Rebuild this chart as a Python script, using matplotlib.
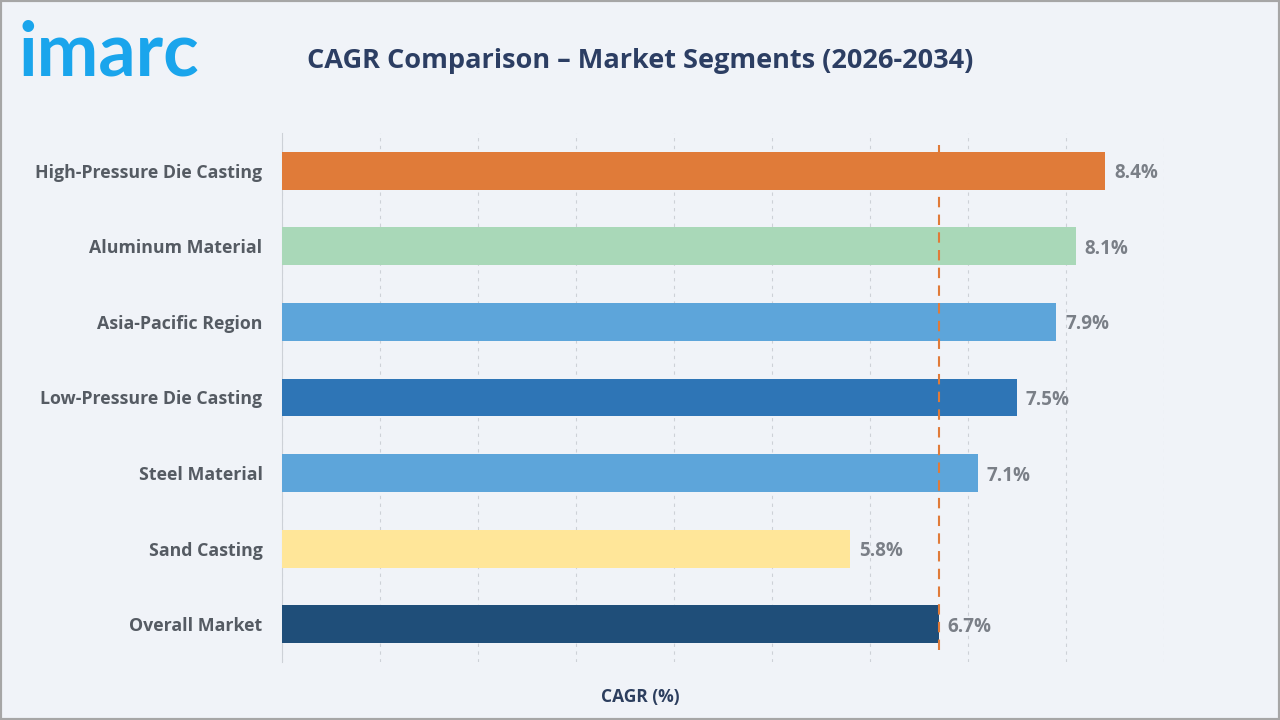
import matplotlib.pyplot as plt
from matplotlib.patches import Rectangle

# data
segments = ['High-Pressure Die Casting', 'Aluminum Material', 'Asia-Pacific Region',
            'Low-Pressure Die Casting', 'Steel Material', 'Sand Casting', 'Overall Market']
cagr = [8.4, 8.1, 7.9, 7.5, 7.1, 5.8, 6.7]
colors = ['#E07B39', '#A9D8B8', '#5DA5DA', '#2E75B6', '#5DA5DA', '#FFE699', '#1F4E79']
overall = 6.7

bg = '#F0F3F8'
font = 'Open Sans'

fig = plt.figure(figsize=(12.8, 7.2), dpi=100, facecolor=bg)
ax = fig.add_axes([282 / 1280, 1 - 662 / 720, 882 / 1280, 529 / 720])
ax.set_facecolor(bg)

ypos = list(range(len(segments)))
ax.barh(ypos, cagr, height=0.5, color=colors, zorder=3)
ax.set_xlim(0, 9)
ax.set_ylim(len(segments) - 0.5, -0.5)

# grid
ax.set_xticks(range(0, 10))
ax.xaxis.grid(True, color='#CDD1D7', linestyle=(0, (3, 4)), linewidth=0.8)
ax.tick_params(axis='x', length=0, labelbottom=False)
ax.tick_params(axis='y', length=0, pad=14)
ax.set_yticks(ypos)
ax.set_yticklabels(segments, fontsize=12.8, fontweight='bold', color='#555B63', fontname=font)
for s in ['top', 'right', 'bottom']:
    ax.spines[s].set_visible(False)
ax.spines['left'].set_color('#CDD1D7')
ax.spines['left'].set_linewidth(0.8)

# overall market reference line
ax.axvline(overall, ymin=0.023, ymax=0.977, color='#E07B39', linestyle=(0, (5, 3.5)),
           linewidth=1.5, zorder=4)

# value labels
for y, v in zip(ypos, cagr):
    ax.text(v + 0.09, y, f'{v}%', va='center_baseline', ha='left', fontsize=13.5,
            fontweight='bold', color='#7A7F87', fontname=font, zorder=5)

# title, axis label, logo
fig.text(640 / 1280, 1 - 61 / 720, 'CAGR Comparison \u2013 Market Segments (2026-2034)',
         ha='center', va='center', fontsize=19.5, fontweight='bold', color='#2C3E63', fontname=font)
fig.text(640 / 1280, 1 - 697 / 720, 'CAGR (%)', ha='center', va='center', fontsize=12.5,
         fontweight='bold', color='#2C3E5E', fontname=font)
fig.text(18 / 1280, 1 - 75 / 720, 'imarc', ha='left', va='baseline', fontsize=53,
         fontweight='bold', color='#1AA5EC', fontname='Lato')

# border
fig.patches.append(Rectangle((0, 0), 1, 1, transform=fig.transFigure, fill=False,
                             edgecolor='#A6A6A6', linewidth=3))

fig.savefig('out.png', dpi=100, facecolor=bg)
